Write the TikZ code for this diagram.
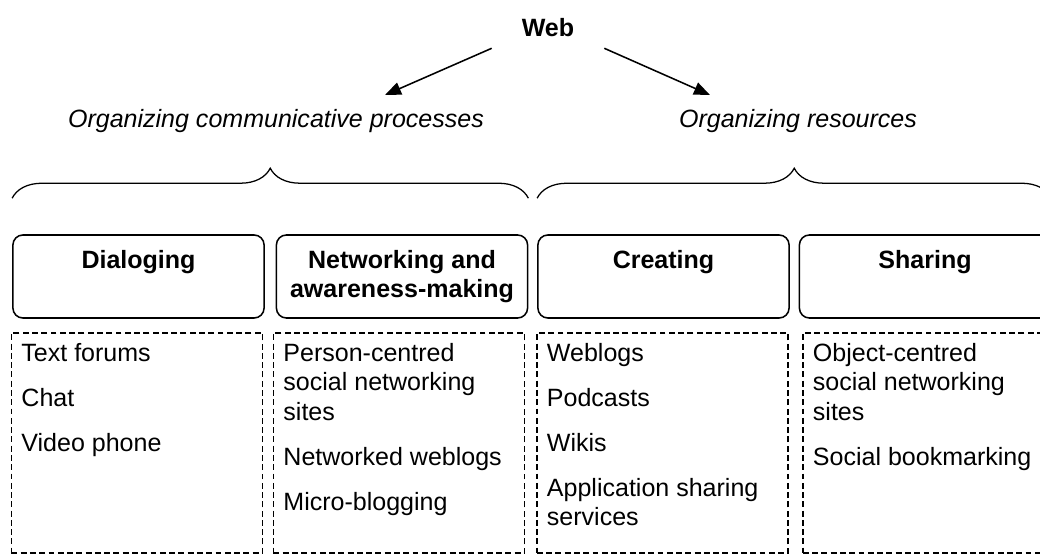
\documentclass[tikz,border=0pt]{standalone}
\usepackage{fontspec}
\setmainfont{Liberation Sans}
\usetikzlibrary{arrows.meta,decorations.pathreplacing}

\begin{document}
\begin{tikzpicture}[every node/.style={font=\fontsize{17.8}{21}\selectfont}, >={Triangle[length=4mm,width=3.2mm]},
	headbox/.style={draw, line width=1.1pt, rounded corners=2.5mm, minimum width=6.28cm, minimum height=2.075cm, align=center, font=\fontsize{17.8}{21}\selectfont\bfseries},
	listbox/.style={draw, line width=0.9pt, dash pattern=on 4.2pt off 2.4pt, minimum width=6.28cm, minimum height=5.5cm},
	listtext/.style={anchor=north west, align=left, inner sep=0.26cm},
	brace/.style={decorate, decoration={brace, amplitude=0.75cm}, line width=0.9pt}]
	\useasboundingbox (0,0) rectangle (26,13.85);
	% top of the tree
	\node[font=\fontsize{17.8}{21}\selectfont\bfseries, minimum width=2.8cm, minimum height=1cm] (web) at (13.7,13.15) {Web};
	\node[font=\fontsize{17.8}{21}\selectfont\itshape, anchor=base] (orgcom) at (6.9,10.65) {Organizing communicative processes};
	\node[font=\fontsize{17.8}{21}\selectfont\itshape, anchor=base] (orgres) at (19.95,10.65) {Organizing resources};
	\coordinate (comtip) at (9.625,11.475);
	\coordinate (restip) at (17.75,11.475);
	\draw[->, line width=1.1pt] (web.south west) -- (comtip);
	\draw[->, line width=1.1pt] (web.south east) -- (restip);
	% the four activities
	\node[headbox] (dial) at (3.4625,6.9375) {Dialoging\\\phantom{g}};
	\node[headbox] (netw) at (10.05,6.9375) {Networking and\\awareness-making};
	\node[headbox] (crea) at (16.5875,6.9375) {Creating\\\phantom{g}};
	\node[headbox] (shar) at (23.125,6.9375) {Sharing\\\phantom{g}};
	\draw[brace] ([yshift=0.9cm]dial.north west) -- ([yshift=0.9cm]netw.north east);
	\draw[brace] ([yshift=0.9cm]crea.north west) -- ([yshift=0.9cm]shar.north east);
	% tools under each activity
	\node[listbox] (dialbox) at (3.425,2.775) {};
	\node[listbox] (netwbox) at (9.975,2.775) {};
	\node[listbox] (creabox) at (16.5625,2.775) {};
	\node[listbox] (sharbox) at (23.2125,2.775) {};
	\node[listtext] (diallist) at (dialbox.north west) {Text forums\\[11pt]Chat\\[11pt]Video phone};
	\node[listtext] (netwlist) at (netwbox.north west) {Person-centred\\social networking\\sites\\[11pt]Networked weblogs\\[11pt]Micro-blogging};
	\node[listtext] (crealist) at (creabox.north west) {Weblogs\\[11pt]Podcasts\\[11pt]Wikis\\[11pt]Application sharing\\services};
	\node[listtext] (sharlist) at (sharbox.north west) {Object-centred\\social networking\\sites\\[11pt]Social bookmarking};
\end{tikzpicture}
\end{document}
